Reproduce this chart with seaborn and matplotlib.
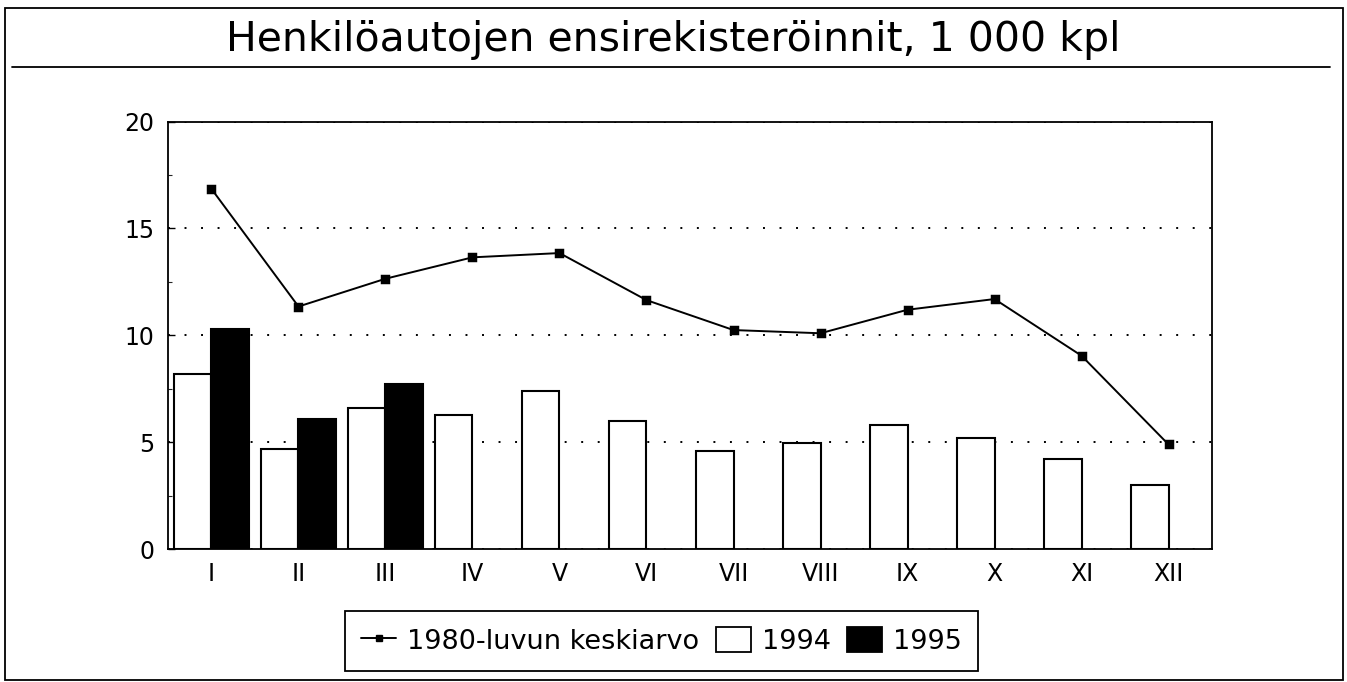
import matplotlib
matplotlib.use("Agg")
import matplotlib.pyplot as plt
from matplotlib.lines import Line2D
from matplotlib.patches import Patch, Rectangle
from matplotlib.ticker import MultipleLocator
import seaborn as sns
import pandas as pd

# ---- data ----
months = ["I", "II", "III", "IV", "V", "VI", "VII", "VIII", "IX", "X", "XI", "XII"]
avg_1980s = [16.85, 11.35, 12.65, 13.65, 13.85, 11.65, 10.25, 10.1, 11.2, 11.7, 9.05, 4.9]
reg_1994 = [8.2, 4.7, 6.6, 6.3, 7.4, 6.0, 4.6, 4.95, 5.8, 5.2, 4.2, 3.0]
months_1995 = ["I", "II", "III"]
reg_1995 = [10.3, 6.1, 7.75]
title = "Henkilöautojen ensirekisteröinnit, 1 000 kpl"
legend_labels = ["1980-luvun keskiarvo", "1994", "1995"]
y_ticks = [0, 5, 10, 15, 20]

sns.set_theme(style="white")
plt.rcParams["font.family"] = ["DejaVu Sans"]
plt.rcParams["text.color"] = "black"
plt.rcParams["legend.labelcolor"] = "black"

bars = pd.DataFrame({
    "month": months + months_1995,
    "value": reg_1994 + reg_1995,
    "year": ["1994"] * len(reg_1994) + ["1995"] * len(reg_1995),
})

fig = plt.figure(figsize=(13.47, 6.82), dpi=100)
fig.patch.set_facecolor("white")
ax = fig.add_axes([0.1247, 0.1946, 0.7751, 0.6272])
ax.set_facecolor("white")

sns.barplot(data=bars, x="month", y="value", hue="year", order=months,
            hue_order=["1994", "1995"],
            palette={"1994": "white", "1995": "black"},
            edgecolor="black", linewidth=1.5, width=0.86, gap=0,
            legend=False, ax=ax, zorder=2)

sns.pointplot(x=months, y=avg_1980s, order=months, color="black", markers="s",
              markersize=5.5, linewidth=1.4, errorbar=None, ax=ax)
for ln in ax.lines:
    ln.set_zorder(4)

ax.set_xlim(-0.5, 11.5)
ax.set_ylim(0, 20)
ax.set_yticks(y_ticks)
ax.yaxis.set_minor_locator(MultipleLocator(2.5))
ax.set_xlabel("")
ax.set_ylabel("")

ax.grid(axis="y", which="major", color="black", linestyle=(0, (1, 7.5)), linewidth=1.4)
ax.grid(axis="x", visible=False)
ax.set_axisbelow(True)

for sp in ax.spines.values():
    sp.set_visible(True)
    sp.set_color("black")
    sp.set_linewidth(1.3)
    sp.set_zorder(5)

ax.tick_params(axis="y", which="major", direction="in", length=5, width=1.0,
               left=True, right=False, labelsize=17, pad=10, colors="black")
ax.tick_params(axis="y", which="minor", direction="in", length=3, width=0.8,
               left=True, right=False)
ax.tick_params(axis="x", length=0, labelsize=17, pad=9, colors="black")

# legend
handles = [
    Line2D([], [], color="black", marker="s", markersize=4.5, linewidth=1.4),
    Patch(facecolor="white", edgecolor="black", linewidth=1.3),
    Patch(facecolor="black", edgecolor="black", linewidth=1.3),
]
leg = fig.legend(handles, legend_labels, ncol=3, loc="center left",
                 bbox_to_anchor=(345 / 1347, 1 - 641 / 682), borderaxespad=0,
                 frameon=True, fancybox=False, fontsize=19.5, framealpha=1,
                 handlelength=1.3, handleheight=1.0, handletextpad=0.4,
                 columnspacing=0.6, borderpad=0.6)
leg.get_frame().set_edgecolor("black")
leg.get_frame().set_linewidth(1.3)

# title, rule and outer frame
fig.text(0.5, 1 - 51 / 682, title, ha="center", va="baseline", fontsize=29.5,
         color="black")
fig.add_artist(Line2D([12 / 1347, 1330 / 1347], [1 - 67 / 682, 1 - 67 / 682],
                      color="black", linewidth=1.3, transform=fig.transFigure))
fig.add_artist(Rectangle((5 / 1347, 2 / 682), 1338 / 1347, 672 / 682,
                         fill=False, edgecolor="black", linewidth=1.3,
                         transform=fig.transFigure))

fig.savefig("out.png", dpi=100, facecolor="white")
